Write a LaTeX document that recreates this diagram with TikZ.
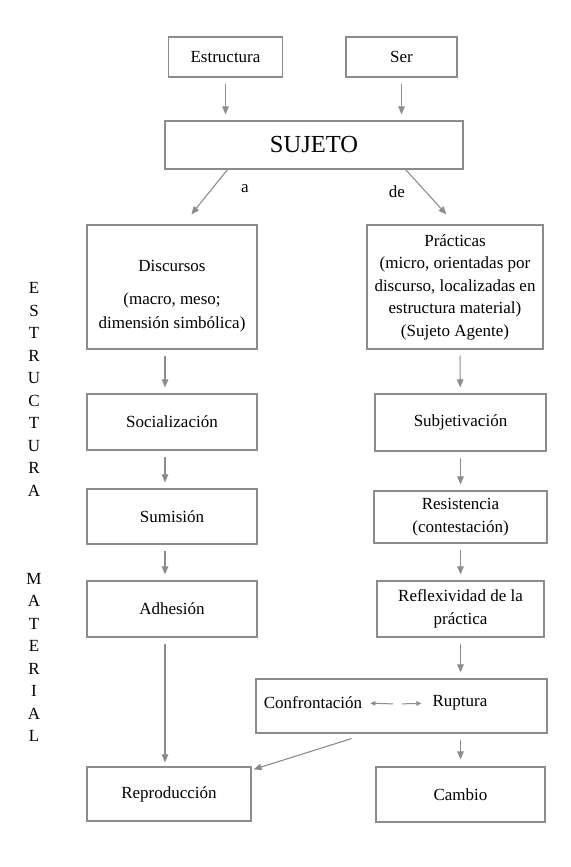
\documentclass[tikz,border=0pt]{standalone}
\usepackage{fontspec}
\setmainfont{Liberation Serif}
\usetikzlibrary{arrows.meta,calc,positioning}
\tikzset{
  flow box/.style={rectangle,draw=black!45,fill=white,line width=1.2pt,
    inner sep=2pt,align=center,font=\fontsize{17}{22.5}\selectfont},
  flow edge/.style={-{Triangle[length=8pt,width=6.5pt]},draw=black!45,
    line width=1.1pt,shorten <=6pt,shorten >=6pt},
  flow small edge/.style={-{Triangle[length=5pt,width=4.5pt]},draw=black!45,
    line width=1pt},
  flow label/.style={font=\fontsize{17}{22.5}\selectfont,inner sep=0pt},
  flow side/.style={align=center,inner sep=0pt,
    font=\fontsize{17}{22.5}\selectfont}
}
\begin{document}
\begin{tikzpicture}[x=1pt,y=-1pt]
    \useasboundingbox (0,0) rectangle (570,867);
    % top row
    \node[flow box,minimum width=114pt,minimum height=40pt] (estructura) at (225.5,57) {Estructura};
    \node[flow box,minimum width=111pt,minimum height=40pt] (ser) at (401.5,57) {Ser};
    \node[flow box,minimum width=298pt,minimum height=48pt,
      font=\fontsize{24.5}{28}\selectfont] (sujeto) at (314,145) {SUJETO};
    \draw[flow edge] (estructura) -- (estructura |- sujeto.north);
    \draw[flow edge] (ser) -- (ser |- sujeto.north);
    % left column
    \node[flow box,minimum width=170pt,minimum height=124pt] (discursos) at (172,287)
      {\rule{0pt}{30pt}Discursos\\[10.5pt](macro, meso;\\[1.5pt]dimensión simbólica)};
    \node[flow box,minimum width=170pt,minimum height=56pt] (socializacion) at (172,422) {Socialización};
    \node[flow box,minimum width=170pt,minimum height=55pt] (sumision) at (172,516.5) {Sumisión};
    \node[flow box,minimum width=170pt,minimum height=56pt] (adhesion) at (172,609) {Adhesión};
    \node[flow box,minimum width=164pt,minimum height=54pt] (reproduccion) at (169,794) {Reproducción};
    % right column
    \node[flow box,minimum width=176pt,minimum height=124pt] (practicas) at (455,287)
      {Prácticas\\(micro, orientadas por\\discurso, localizadas en\\estructura material)\\(Sujeto Agente)};
    \node[flow box,minimum width=171pt,minimum height=57pt] (subjetivacion) at (460.5,422.5) {Subjetivación};
    \node[flow box,minimum width=173pt,minimum height=52pt] (resistencia) at (460.5,517)
      {Resistencia\\(contestación)};
    \node[flow box,minimum width=167pt,minimum height=56pt] (reflexividad) at (460.5,609)
      {Reflexividad de la\\práctica};
    \node[flow box,minimum width=291pt,minimum height=54pt] (ruptbox) at (401.5,706) {};
    \node[flow label] (confrontacion) at (313,703) {Confrontación};
    \node[flow label] (ruptura) at (460,703) {Ruptura};
    \node[flow box,minimum width=169pt,minimum height=55pt] (cambio) at (460.5,794.5) {Cambio};
    % branches from SUJETO
    \draw[flow edge,shorten <=0pt,shorten >=0pt]
      ([xshift=63pt]sujeto.south west) -- ([xshift=105pt,yshift=10pt]discursos.north west);
    \draw[flow edge,shorten <=0pt,shorten >=0pt]
      ([xshift=-58pt]sujeto.south east) -- ([xshift=80pt,yshift=10pt]practicas.north west);
    \node[flow label] (alabel) at (245,189) {a};
    \node[flow label] (delabel) at (397,192) {de};
    % vertical chains
    \draw[flow edge] ([xshift=-7pt]discursos.south) -- ([xshift=-7pt]socializacion.north);
    \draw[flow edge] ([xshift=-7pt]socializacion.south) -- ([xshift=-7pt]sumision.north);
    \draw[flow edge] ([xshift=-7pt]sumision.south) -- ([xshift=-7pt]adhesion.north);
    \draw[flow edge,shorten >=4pt] ([xshift=-7pt]adhesion.south) -- ([xshift=-4pt]reproduccion.north);
    \draw[flow edge] ([xshift=5pt]practicas.south) -- (subjetivacion);
    \draw[flow edge] (subjetivacion) -- (resistencia);
    \draw[flow edge] (resistencia) -- (reflexividad);
    \draw[flow edge] (reflexividad) -- (reflexividad |- ruptbox.north);
    \draw[flow edge,shorten >=7pt] (ruptbox.south -| cambio) -- (cambio);
    \draw[flow edge,shorten <=0pt,shorten >=0pt]
      ([xshift=96pt,yshift=-5pt]ruptbox.south west) -- ([xshift=2pt,yshift=-3pt]reproduccion.north east);
    % inside the lower box
    \coordinate (ruptmid) at (397.5,704);
    \draw[flow small edge,shorten <=4.5pt,shorten >=8pt] (ruptmid) -- (confrontacion.east);
    \draw[flow small edge,shorten <=4.5pt,shorten >=11pt] (ruptmid) -- (ruptura.west);
    % side text
    \node[flow side] (sideone) at (34,389.5) {E\\S\\T\\R\\U\\C\\T\\U\\R\\A};
    \node[flow side] (sidetwo) at (34,657.5) {M\\A\\T\\E\\R\\I\\A\\L};
\end{tikzpicture}
\end{document}
